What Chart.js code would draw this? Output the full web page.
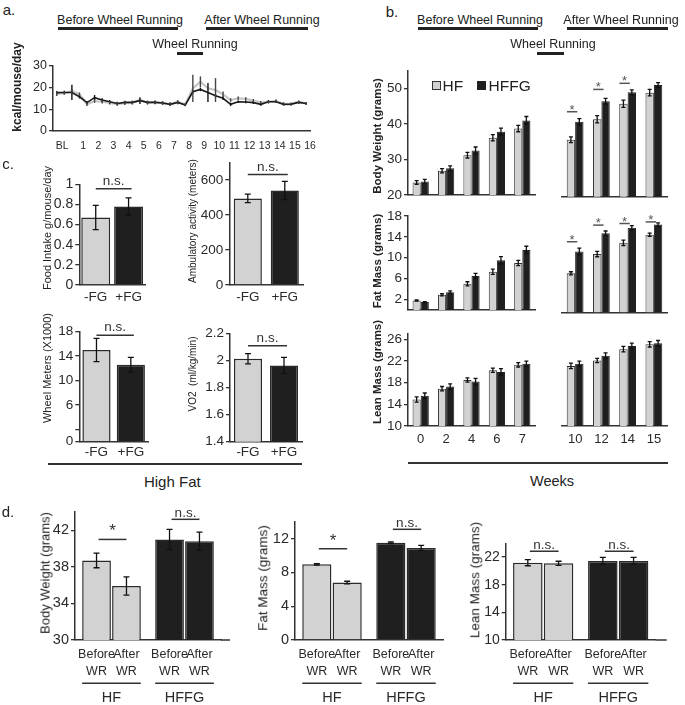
<!DOCTYPE html>
<html><head><meta charset="utf-8">
<script src="https://cdn.jsdelivr.net/npm/chart.js@4.4.0/dist/chart.umd.min.js"></script>
<style>
body{margin:0;background:#fff;}
#fig{position:relative;width:685px;height:705px;font-family:"Liberation Sans",Arial,sans-serif;color:#222;overflow:hidden}
.t{position:absolute;white-space:pre;transform:translate(-50%,-50%);line-height:1}
.r{position:absolute;box-sizing:border-box}
</style></head><body><div id="fig"></div>
<script>
// ---- panel a: daily energy intake
const aWeeks = [-0.75,-0.25,0.25,0.75,1.25,1.75,2.25,2.75,3.25,3.75,4.25,4.75,5.25,5.75,6.25,6.75,7.25,7.75,
                8.25,8.75,9.25,9.75,10.25,10.75,11.25,11.75,12.25,12.75,13.25,13.75,14.25,14.75,15.25,15.75];
const aHFFG = [17.7,17.8,17.8,15.8,13.1,15.4,14.3,13.5,12.7,13.2,13.2,14.0,13.2,13.2,12.9,12.3,13.2,12.0,
               18.1,19.2,17.8,16.3,15.1,12.3,13.5,13.4,13.1,12.3,13.5,13.5,12.3,12.4,13.2,12.7];
const aHFFGErr = [0.8,0.8,3.5,0.8,0.8,1.2,0.8,0.8,0.8,0.8,0.8,1.5,0.8,0.8,0.8,0.8,0.8,0.6,
                  0.8,0.8,4.4,0.8,0.8,0.8,0.6,0.6,0.6,0.6,0.8,0.6,0.6,0.6,0.6,0.6];
const aHF = [17.2,17.5,18.5,17.0,12.3,13.8,13.5,13.0,12.4,12.8,13.0,14.5,13.0,13.3,12.9,12.4,13.4,12.3,
             19.7,22.7,19.7,18.9,16.9,14.3,15.1,14.8,14.0,13.2,13.5,13.8,12.7,12.4,13.5,12.7];
const aHFErr = [1.0,0.8,0.8,0.8,0.8,0.8,0.8,0.8,0.8,0.8,0.8,0.8,0.8,0.8,0.8,0.8,0.8,0.6,
                6.3,2.5,0.8,5.5,1.3,0.8,0.8,0.8,0.8,0.6,0.6,0.8,0.6,0.6,0.6,0.6];
const aTickPos = [-0.4,1,2,3,4,5,6,7,8,9,10,11,12,13,14,15,16];
const aTickLabels = ['BL','1','2','3','4','5','6','7','8','9','10','11','12','13','14','15','16'];

// ---- panel b: weekly body composition
const bWeeksBefore = ['0','2','4','6','7'];
const bWeeksAfter = ['10','12','14','15'];
const bwHF1 = [23.5,26.8,31.2,36.1,38.7], bwHF1Err = [0.5,0.6,0.8,0.9,0.9];
const bwHFFG1 = [23.8,27.5,32.5,37.8,41.0], bwHFFG1Err = [0.6,0.7,1.0,1.0,1.1];
const bwHF2 = [35.8,41.5,45.8,48.9], bwHF2Err = [0.8,1.0,1.0,0.9];
const bwHFFG2 = [40.8,46.5,49.0,51.0], bwHFFG2Err = [0.9,0.8,0.7,0.7];
const fmHF1 = [1.8,2.9,5.0,7.3,9.0], fmHF1Err = [0.1,0.2,0.4,0.5,0.5];
const fmHFFG1 = [1.5,3.4,6.5,9.5,11.5], fmHFFG1Err = [0.1,0.25,0.5,0.7,0.7];
const fmHF2 = [7.3,10.9,13.0,14.5], fmHF2Err = [0.3,0.5,0.5,0.3];
const fmHFFG2 = [11.4,14.8,15.8,16.4], fmHFFG2Err = [0.6,0.4,0.4,0.3];
const lmHF1 = [14.9,16.9,18.5,20.3,21.3], lmHF1Err = [0.5,0.4,0.4,0.4,0.4];
const lmHFFG1 = [15.6,17.3,18.2,20.0,21.5], lmHFFG1Err = [0.5,0.5,0.6,0.6,0.5];
const lmHF2 = [21.1,22.1,24.2,25.1], lmHF2Err = [0.5,0.4,0.5,0.5];
const lmHFFG2 = [21.5,23.0,24.8,25.3], lmHFFG2Err = [0.5,0.5,0.5,0.5];
const bwSig = [43.6,49.8,51.5];
const fmSig = [13.2,16.3,16.6,16.9];

// ---- panel c: high fat -FG / +FG
const cGroups = ['-FG','+FG'];
const cFood = [0.67,0.78], cFoodErr = [0.12,0.085];
const cAmb = [495,540], cAmbErr = [24,52];
const cWheel = [15.0,12.6], cWheelErr = [1.9,1.2];
const cVO2 = [2.012,1.963], cVO2Err = [0.038,0.06];

// ---- panel d: before / after wheel running
const dGroups = ['HF','HFFG'];
const dBodyBefore = [38.7,41.0], dBodyBeforeErr = [0.8,1.1];
const dBodyAfter = [35.9,40.8], dBodyAfterErr = [1.0,1.0];
const dFatBefore = [8.95,11.5], dFatBeforeErr = [0.1,0.1];
const dFatAfter = [6.8,10.9], dFatAfterErr = [0.15,0.3];
const dLeanBefore = [21.2,21.45], dLeanBeforeErr = [0.45,0.5];
const dLeanAfter = [21.1,21.45], dLeanAfterErr = [0.3,0.5];

const GREY = '#d2d2d2', BLACK = '#1f1f1f', INK = '#2a2a2a';
const FONT = '"Liberation Sans", Arial, sans-serif';
Chart.defaults.font.family = FONT;
Chart.defaults.color = INK;
Chart.defaults.animation = false;
Chart.defaults.responsive = false;
Chart.defaults.plugins.legend.display = false;
Chart.defaults.plugins.tooltip.enabled = false;

const fig = document.getElementById('fig');

// error bars, significance marks and group labels
const deco = {
  id: 'deco',
  afterDatasetsDraw(chart, args, o) {
    const ctx = chart.ctx, ys = chart.scales.y, ca = chart.chartArea;
    ctx.save();
    chart.data.datasets.forEach((ds, di) => {
      if (!ds.err) return;
      const meta = chart.getDatasetMeta(di);
      ctx.strokeStyle = ds.errColor || '#111';
      ctx.lineWidth = ds.errWidth || 1.3;
      meta.data.forEach((el, i) => {
        const v = ds.data[i], val = typeof v === 'object' ? v.y : v, e = ds.err[i];
        const y0 = ys.getPixelForValue(val - e), y1 = ys.getPixelForValue(val + e), c = ds.cap || 0;
        ctx.beginPath();
        ctx.moveTo(el.x, y0); ctx.lineTo(el.x, y1);
        if (c) { ctx.moveTo(el.x - c, y0); ctx.lineTo(el.x + c, y0); ctx.moveTo(el.x - c, y1); ctx.lineTo(el.x + c, y1); }
        ctx.stroke();
      });
    });
    (o.sig || []).forEach(s => {
      const ea = chart.getDatasetMeta(s.a[0]).data[s.a[1]];
      const eb = chart.getDatasetMeta(s.b[0]).data[s.b[1]];
      const py = ys.getPixelForValue(s.y), x0 = ea.x + (s.o0 || 0), x1 = eb.x + (s.o1 || 0);
      ctx.strokeStyle = s.color || '#333'; ctx.fillStyle = s.color || '#333';
      ctx.lineWidth = s.lw || 1.5;
      ctx.beginPath(); ctx.moveTo(x0, py); ctx.lineTo(x1, py); ctx.stroke();
      ctx.font = s.font; ctx.textAlign = 'center'; ctx.textBaseline = 'alphabetic';
      ctx.fillText(s.text, (x0 + x1) / 2, py - s.gap);
    });
    if (o.xExt) {
      ctx.strokeStyle = '#333'; ctx.lineWidth = 1.5;
      ctx.beginPath(); ctx.moveTo(ca.right, ca.bottom); ctx.lineTo(ca.right + o.xExt, ca.bottom); ctx.stroke();
    }
    if (o.subs) {
      const m0 = chart.getDatasetMeta(0).data, m1 = chart.getDatasetMeta(1).data;
      ctx.fillStyle = INK; ctx.textAlign = 'center'; ctx.textBaseline = 'middle';
      o.subs.rows.forEach((row, r) => {
        ctx.font = '12.5px ' + FONT;
        [m0, m1].forEach((m, di) => m.forEach(el => ctx.fillText(row[di], el.x, ca.bottom + o.subs.rowY[r])));
      });
      o.subs.groups.forEach((g, i) => {
        const x0 = m0[i].x - m0[i].width / 2, x1 = m1[i].x + m1[i].width / 2;
        ctx.strokeStyle = '#333'; ctx.lineWidth = 1.5;
        ctx.beginPath(); ctx.moveTo(x0, ca.bottom + o.subs.lineY); ctx.lineTo(x1, ca.bottom + o.subs.lineY); ctx.stroke();
        ctx.font = '14.5px ' + FONT;
        ctx.fillText(g, (x0 + x1) / 2, ca.bottom + o.subs.nameY);
      });
    }
    ctx.restore();
  }
};

function makeChart(box, area, cfg) {
  const [bx, by, bw, bh] = box, [l, t, r, b] = area;
  const c = document.createElement('canvas');
  c.width = bw; c.height = bh;
  c.style.cssText = `position:absolute;left:${bx}px;top:${by}px;`;
  fig.appendChild(c);
  const yShown = cfg.options.scales.y.display !== false;
  cfg.options.layout = {padding: {top: t - by, right: bx + bw - r, left: yShown ? 0 : l - bx, bottom: 0}};
  if (yShown) cfg.options.scales.y.afterFit = s => { s.width = l - bx; };
  cfg.options.scales.x.afterFit = s => { s.height = by + bh - b; };
  cfg.plugins = [deco];
  return new Chart(c, cfg);
}

function yAxis(min, max, ticks, size, show = true, cb) {
  return {
    display: show, min, max,
    afterBuildTicks: s => { s.ticks = ticks.map(v => ({value: v})); },
    ticks: {font: {size}, padding: 2, color: INK, callback: cb || (v => v)},
    grid: {display: true, drawOnChartArea: false, drawTicks: true, tickLength: 4, color: '#333', lineWidth: 1.3},
    border: {display: true, color: '#333', width: 1.5}
  };
}
function xCat(labels, size, pad) {
  return {
    type: 'category', offset: true, grid: {display: false, drawTicks: false},
    border: {display: true, color: '#333', width: 1.5},
    ticks: {display: labels, font: {size}, padding: pad, color: INK, maxRotation: 0, autoSkip: false}
  };
}

function txt(s, cx, cy, size, o = {}) {
  const d = document.createElement('div');
  d.className = 't'; d.textContent = s;
  d.style.left = cx + 'px'; d.style.top = cy + 'px'; d.style.fontSize = size + 'px';
  if (o.bold) d.style.fontWeight = 'bold';
  if (o.rot) d.style.transform = 'translate(-50%,-50%) rotate(-90deg)';
  if (o.left) d.style.transform = 'translate(0,-50%)';
  fig.appendChild(d);
}
function rect(x1, y1, x2, y2, bg, border) {
  const d = document.createElement('div');
  d.className = 'r';
  d.style.cssText += `left:${x1}px;top:${y1}px;width:${x2 - x1}px;height:${y2 - y1}px;background:${bg};` +
    (border ? `border:1px solid ${border};` : '');
  fig.appendChild(d);
}

// ================= panel a
makeChart([10, 50, 320, 110], [53, 66, 310, 131], {
  type: 'line',
  data: {datasets: [
    {data: aWeeks.map((x, i) => ({x, y: aHFFG[i]})), err: aHFFGErr, borderColor: '#1a1a1a', borderWidth: 1.6,
     pointRadius: 0, errColor: '#111', errWidth: 1.4},
    {data: aWeeks.map((x, i) => ({x, y: aHF[i]})), err: aHFErr, borderColor: '#c6c6c6', borderWidth: 2.2,
     pointRadius: 0, errColor: '#444', errWidth: 1.4}
  ]},
  options: {scales: {
    x: {type: 'linear', min: -1, max: 16,
        afterBuildTicks: s => { s.ticks = aTickPos.map(v => ({value: v})); },
        ticks: {callback: (v, i) => aTickLabels[i], font: {size: 10.5}, padding: 9, color: INK, autoSkip: false, maxRotation: 0},
        grid: {display: false, drawTicks: false}, border: {display: true, color: '#333', width: 1.5}},
    y: yAxis(0, 30, [0, 5, 10, 15, 20, 25, 30], 12.5, true, v => (v % 10 === 0 ? v : ''))
  }}
});
txt('a.', 9, 9, 15);
txt('Before Wheel Running', 120, 20, 12.5);
rect(58, 27, 178, 30, '#222');
txt('After Wheel Running', 262, 20, 12.5);
rect(206, 27, 308, 30, '#222');
txt('Wheel Running', 195, 43.5, 12.5);
rect(177, 51.5, 203, 54.5, '#222');
txt('kcal/mouse/day', 17, 87, 12, {bold: true, rot: true});

// ================= panel b
function bChart(box, area, labels, hf, hfE, hffg, hffgE, y, showX, sig) {
  return makeChart(box, area, {
    type: 'bar',
    data: {labels, datasets: [
      {data: hf, err: hfE, backgroundColor: GREY, borderColor: '#333', borderWidth: 1, cap: 2,
       categoryPercentage: 0.64, barPercentage: 1},
      {data: hffg, err: hffgE, backgroundColor: BLACK, borderColor: '#222', borderWidth: 1, cap: 2,
       categoryPercentage: 0.64, barPercentage: 1}
    ]},
    options: {
      scales: {x: xCat(showX, 13, 6), y},
      plugins: {deco: {sig: (sig || []).map((v, i) => ({a: [0, i], b: [1, i], y: v, o0: -4, o1: -2, text: '*',
        font: '13px ' + FONT, gap: -2, color: '#555', lw: 1.5}))}}
    }
  });
}
bChart([360, 55, 185, 150], [408, 70.7, 535, 196.7], bWeeksBefore, bwHF1, bwHF1Err, bwHFFG1, bwHFFG1Err,
  yAxis(20, 55, [20, 30, 40, 50], 13.5), false);
bChart([552, 55, 125, 150], [562, 70.7, 667, 196.7], bWeeksAfter, bwHF2, bwHF2Err, bwHFFG2, bwHFFG2Err,
  yAxis(20, 55, [20, 30, 40, 50], 13.5, false), false, bwSig);
bChart([360, 205, 185, 115], [408, 216, 535, 312.5], bWeeksBefore, fmHF1, fmHF1Err, fmHFFG1, fmHFFG1Err,
  yAxis(0, 18, [2, 6, 10, 14, 18], 13.5), false);
bChart([552, 205, 125, 115], [562, 216, 667, 312.5], bWeeksAfter, fmHF2, fmHF2Err, fmHFFG2, fmHFFG2Err,
  yAxis(0, 18, [2, 6, 10, 14, 18], 13.5, false), false, fmSig);
bChart([360, 322, 185, 135], [408, 334, 535, 426], bWeeksBefore, lmHF1, lmHF1Err, lmHFFG1, lmHFFG1Err,
  yAxis(10, 27, [10, 14, 18, 22, 26], 13.5), true);
bChart([552, 322, 125, 135], [562, 334, 667, 426], bWeeksAfter, lmHF2, lmHF2Err, lmHFFG2, lmHFFG2Err,
  yAxis(10, 27, [10, 14, 18, 22, 26], 13.5, false), true);
txt('b.', 392, 11, 15);
txt('Before Wheel Running', 480, 20, 12.5);
rect(418, 27, 538, 30, '#222');
txt('After Wheel Running', 621, 20, 12.5);
rect(567, 27, 668, 30, '#222');
txt('Wheel Running', 553, 43.5, 12.5);
rect(537, 52, 564, 55, '#222');
rect(431.5, 80.5, 440.5, 89.5, GREY, '#333');
txt('HF', 442.5, 85.5, 15.5, {left: true});
rect(476.5, 80.5, 485.5, 89.5, BLACK, '#222');
txt('HFFG', 488.5, 85.5, 15.5, {left: true});
txt('Body Weight (grams)', 378, 136, 11.5, {bold: true, rot: true});
txt('Fat Mass (grams)', 378, 261, 11.5, {bold: true, rot: true});
txt('Lean Mass (grams)', 378, 372, 11.5, {bold: true, rot: true});
rect(408, 462, 668, 463.5, '#333');
txt('Weeks', 552, 481, 14.5);

// ================= panel c
function cChart(box, area, vals, errs, y, catPct, sigY, gap, pad) {
  return makeChart(box, area, {
    type: 'bar',
    data: {labels: cGroups, datasets: [
      {data: vals, err: errs, backgroundColor: [GREY, BLACK], borderColor: '#2a2a2a', borderWidth: 1.5, cap: 3,
       categoryPercentage: catPct, barPercentage: 1}
    ]},
    options: {
      scales: {x: xCat(true, 13.5, pad), y},
      plugins: {deco: {sig: [{a: [0, 0], b: [0, 1], y: sigY, o0: 0, o1: 3, text: 'n.s.', font: '13.5px ' + FONT, gap}]}}
    }
  });
}
cChart([40, 170, 115, 145], [79.3, 184.3, 145, 285], cFood, cFoodErr, yAxis(0, 1, [0, 0.2, 0.4, 0.6, 0.8, 1], 14), 0.88, 0.955, 4, 4);
cChart([190, 150, 123, 165], [229.3, 162.5, 303.3, 285], cAmb, cAmbErr, yAxis(0, 700, [0, 200, 400, 600], 13.5), 0.76, 632, 3, 4);
cChart([40, 318, 118, 145], [79.3, 331.7, 148, 441.7], cWheel, cWheelErr,
  yAxis(0, 18, [0, 2, 6, 10, 14, 18], 13.5, true, v => (v === 2 ? '' : v)), 0.82, 17.4, 4, 2);
cChart([190, 320, 122, 143], [230, 333.3, 302, 441.7], cVO2, cVO2Err, yAxis(1.4, 2.2, [1.4, 1.6, 1.8, 2, 2.2], 13.5), 0.78, 2.108, 4, 2);
txt('c.', 8, 163, 15);
txt('Food Intake g/mouse/day', 46.7, 228, 11, {rot: true});
txt('Ambulatory activity (meters)', 192.7, 221, 10, {rot: true});
txt('Wheel Meters (X1000)', 46.7, 368, 11, {rot: true});
txt('VO2  (ml/kg/min)', 192.7, 374, 10, {rot: true});
rect(48, 463.3, 302, 464.8, '#333');
txt('High Fat', 172.3, 481, 15);

// ================= panel d
function dChart(box, area, before, beforeE, after, afterE, y, xExt, sig) {
  const sub = {rows: [['Before', 'After'], ['WR', 'WR']], groups: dGroups, rowY: [15, 31.5], lineY: 43.3, nameY: 58};
  return makeChart(box, area, {
    type: 'bar',
    data: {labels: dGroups, datasets: [
      {data: before, err: beforeE, backgroundColor: [GREY, BLACK], borderColor: '#2a2a2a', borderWidth: 1.5, cap: 3,
       categoryPercentage: 0.82, barPercentage: 0.96},
      {data: after, err: afterE, backgroundColor: [GREY, BLACK], borderColor: '#2a2a2a', borderWidth: 1.5, cap: 3,
       categoryPercentage: 0.82, barPercentage: 0.96}
    ]},
    options: {
      scales: {x: xCat(false, 13, 4), y},
      plugins: {deco: {xExt, subs: sub, sig: sig.map(s => ({a: [0, s.i], b: [1, s.i], y: s.y, o0: 2, o1: 0,
        text: s.t, font: (s.t === '*' ? '17px ' : '13.5px ') + FONT, gap: s.t === '*' ? 3 : 2.5}))}}
    }
  });
}
dChart([35, 500, 200, 205], [75, 512, 221, 640], dBodyBefore, dBodyBeforeErr, dBodyAfter, dBodyAfterErr,
  yAxis(30, 44, [30, 34, 38, 42], 14.5), 9, [{i: 0, y: 41.0, t: '*'}, {i: 1, y: 43.2, t: 'n.s.'}]);
dChart([255, 505, 200, 200], [295, 521.7, 443, 640], dFatBefore, dFatBeforeErr, dFatAfter, dFatAfterErr,
  yAxis(0, 14, [0, 4, 8, 12], 14.5), 0, [{i: 0, y: 10.8, t: '*'}, {i: 1, y: 13.1, t: 'n.s.'}]);
dChart([465, 525, 215, 180], [505.7, 543.3, 655.7, 640], dLeanBefore, dLeanBeforeErr, dLeanAfter, dLeanAfterErr,
  yAxis(10, 24, [10, 14, 18, 22], 14), 11, [{i: 0, y: 22.85, t: 'n.s.'}, {i: 1, y: 22.85, t: 'n.s.'}]);
txt('d.', 8, 511, 15);
txt('Body Weight (grams)', 45, 573, 13, {rot: true});
txt('Fat Mass (grams)', 263, 578, 13.5, {rot: true});
txt('Lean Mass (grams)', 475, 580, 13.5, {rot: true});
</script></body></html>
